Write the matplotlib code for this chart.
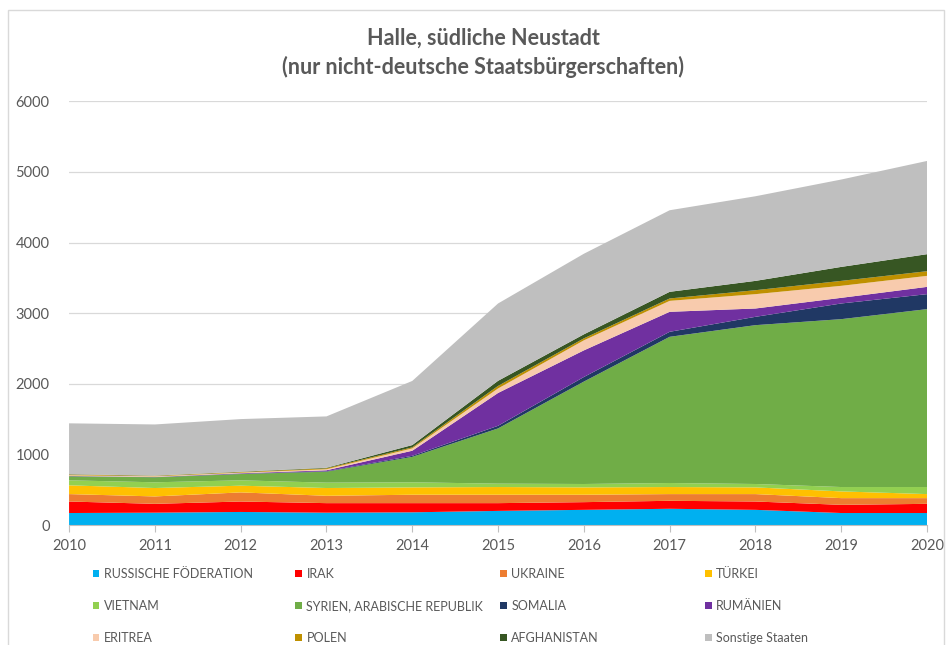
import numpy as np
import matplotlib.pyplot as plt
from matplotlib.patches import Rectangle

# === Daten ===
jahre = [2010, 2011, 2012, 2013, 2014, 2015, 2016, 2017, 2018, 2019, 2020]

russland = [170, 175, 185, 175, 180, 200, 215, 230, 215, 170, 170]
irak = [163, 125, 148, 135, 130, 110, 109, 113, 118, 116, 130]
ukraine = [105, 105, 129, 104, 119, 119, 105, 95, 105, 95, 81]
tuerkei = [124, 119, 95, 110, 104, 109, 104, 100, 95, 95, 57]
vietnam = [71, 81, 76, 76, 72, 48, 48, 57, 48, 62, 100]
syrien = [57, 71, 89, 155, 360, 782, 1450, 2070, 2249, 2377, 2519]
somalia = [2, 2, 4, 7, 15, 37, 65, 71, 118, 222, 212]
rumaenien = [3, 3, 7, 13, 72, 465, 377, 283, 118, 80, 103]
eritrea = [10, 9, 9, 15, 33, 64, 142, 155, 203, 170, 156]
polen = [10, 7, 8, 13, 15, 36, 28, 34, 56, 70, 66]
afghanistan = [5, 3, 5, 8, 32, 72, 57, 94, 132, 198, 241]
sonstige = [720, 724, 745, 727, 908, 1095, 1141, 1155, 1198, 1237, 1320]

namen = ["RUSSISCHE FÖDERATION", "IRAK", "UKRAINE", "TÜRKEI",
         "VIETNAM", "SYRIEN, ARABISCHE REPUBLIK", "SOMALIA", "RUMÄNIEN",
         "ERITREA", "POLEN", "AFGHANISTAN", "Sonstige Staaten"]
farben = ["#00B0F0", "#FF0000", "#ED7D31", "#FFC000",
          "#92D050", "#70AD47", "#203864", "#7030A0",
          "#F8CBAD", "#BF9000", "#375623", "#BFBFBF"]

werte = [russland, irak, ukraine, tuerkei, vietnam, syrien, somalia,
         rumaenien, eritrea, polen, afghanistan, sonstige]

plt.rcParams["font.family"] = ["Lato", "DejaVu Sans"]
grau = "#595959"

fig = plt.figure(figsize=(9.46, 6.45), dpi=100)
ax = fig.add_axes([0.073, 0.186, 0.907, 0.657])

polys = ax.stackplot(jahre, *werte, colors=farben, labels=namen, linewidth=0)

# === Achsen ===
ax.set_xlim(2010, 2020)
ax.set_ylim(0, 6000)
ax.set_xticks(jahre)
ax.set_yticks(range(0, 6001, 1000))
ax.tick_params(axis="x", colors="#BFBFBF", labelcolor=grau, labelsize=10.5, length=5, pad=5)
ax.tick_params(axis="y", length=0, labelcolor=grau, labelsize=10.5, pad=14)
ax.grid(True, axis="y", color="#D9D9D9", linewidth=0.9)
ax.set_axisbelow(True)
for s in ["top", "right", "left"]:
    ax.spines[s].set_visible(False)
ax.spines["bottom"].set_color("#BFBFBF")

# === Titel ===
fig.text(0.511, 0.941, "Halle, südliche Neustadt", ha="center", va="center",
         fontsize=15.5, fontweight="bold", color=grau)
fig.text(0.511, 0.896, "(nur nicht-deutsche Staatsbürgerschaften)", ha="center", va="center",
         fontsize=15.5, fontweight="bold", color=grau)

# === Legende: 4 Spalten, zeilenweise ===
spalten_x = [0.0978, 0.312, 0.5285, 0.745]
for j, x in enumerate(spalten_x):
    idx = [j, j + 4, j + 8]
    leg = fig.legend([polys[i] for i in idx], [namen[i] for i in idx],
                     loc="upper left", bbox_to_anchor=(x, 0.1195), frameon=False,
                     fontsize=9, labelcolor=grau, handlelength=0.55, handleheight=0.55,
                     handletextpad=0.35, labelspacing=1.6, borderaxespad=0, borderpad=0)

# === Rahmen ===
fig.add_artist(Rectangle((0.008, -0.01), 0.99, 0.995, transform=fig.transFigure,
                         fill=False, edgecolor="#D9D9D9", linewidth=1))

plt.savefig("out.png", dpi=100)
